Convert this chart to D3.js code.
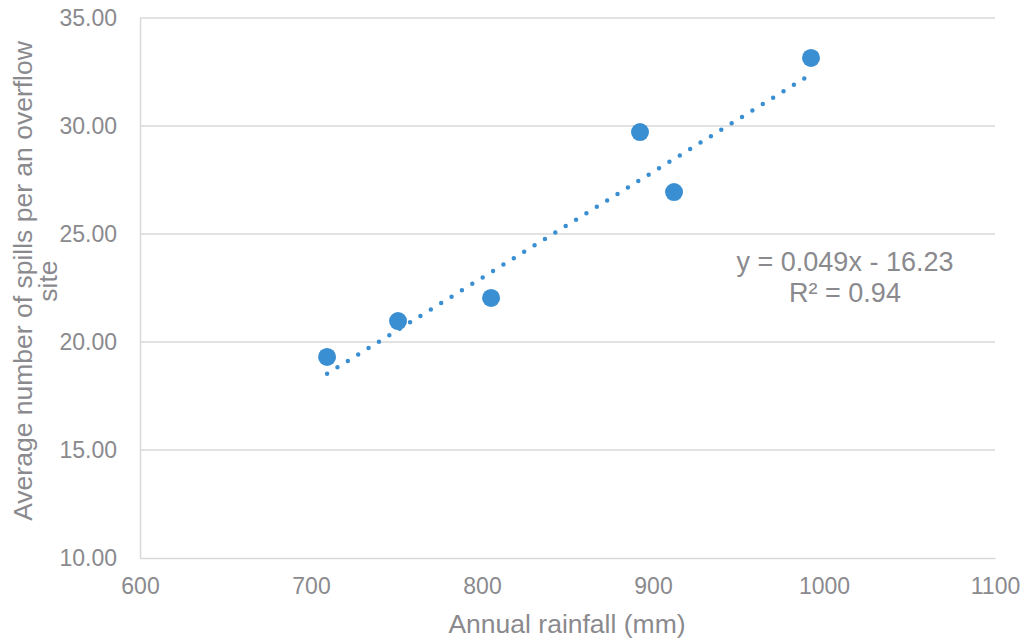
<!DOCTYPE html>
<html>
<head>
<meta charset="utf-8">
<script src="https://cdn.jsdelivr.net/npm/d3@7"></script>
<style>
  html, body { margin: 0; padding: 0; background: #fff; }
  svg { display: block; font-family: "Liberation Sans", Arial, sans-serif; }
</style>
</head>
<body>
<svg id="chart" width="1026" height="641"></svg>
<script>
// Annual rainfall (mm) against average spills per overflow site
const rainfall = [709.4, 750.9, 805.3, 892.4, 912.3, 992.4];
const spills   = [19.31, 20.97, 22.04, 29.72, 26.94, 33.15];

// Linear trendline as reported on the chart
const trendSlope = 0.049;
const trendIntercept = -16.23;
const trendLabel = ["y = 0.049x - 16.23", "R\u00B2 = 0.94"];

const xTicks = [600, 700, 800, 900, 1000, 1100];
const yTicks = [10, 15, 20, 25, 30, 35];
const xTitle = "Annual rainfall (mm)";
const yTitleLines = ["Average number of spills per an overflow", "site"];

const blue = "#3a8fd2";
const gray = "#8a8a8e";
const gridColor = "#d9d9d9";

const svg = d3.select("#chart");
const plotLeft = 140, plotRight = 995, plotTop = 18, plotBottom = 558;

const x = d3.scaleLinear().domain([600, 1100]).range([plotLeft, plotRight]);
const y = d3.scaleLinear().domain([10, 35]).range([plotBottom, plotTop]);

// horizontal gridlines
svg.append("g")
  .selectAll("line")
  .data(yTicks.slice(1))
  .join("line")
  .attr("x1", plotLeft).attr("x2", plotRight)
  .attr("y1", d => y(d)).attr("y2", d => y(d))
  .attr("stroke", gridColor).attr("stroke-width", 1.5);

// axes
const xAxis = svg.append("g")
  .attr("transform", `translate(0,${plotBottom})`)
  .call(d3.axisBottom(x).tickValues(xTicks).tickSize(0).tickPadding(20).tickFormat(d3.format("d")));
xAxis.select(".domain").attr("stroke", gridColor).attr("stroke-width", 1.5);
xAxis.selectAll("text").attr("fill", gray).attr("font-size", 23)
  .attr("font-family", "Liberation Sans, Arial, sans-serif");

const yAxis = svg.append("g")
  .attr("transform", `translate(${plotLeft},0)`)
  .call(d3.axisLeft(y).tickValues(yTicks).tickSize(0).tickPadding(23).tickFormat(d3.format(".2f")));
yAxis.select(".domain").attr("stroke", gridColor).attr("stroke-width", 1.5);
yAxis.selectAll("text").attr("fill", gray).attr("font-size", 23)
  .attr("font-family", "Liberation Sans, Arial, sans-serif");

// dotted trendline across the data range
const xr = d3.extent(rainfall);
svg.append("path")
  .datum(xr)
  .attr("d", d3.line().x(d => x(d)).y(d => y(trendSlope * d + trendIntercept)))
  .attr("fill", "none")
  .attr("stroke", blue)
  .attr("stroke-width", 4.5)
  .attr("stroke-linecap", "round")
  .attr("stroke-dasharray", "0,12.2");

// data points
svg.append("g")
  .selectAll("circle")
  .data(rainfall.map((r, i) => [r, spills[i]]))
  .join("circle")
  .attr("cx", d => x(d[0]))
  .attr("cy", d => y(d[1]))
  .attr("r", 9)
  .attr("fill", blue);

// trendline equation
svg.append("text")
  .attr("x", 845).attr("y", 271)
  .attr("text-anchor", "middle")
  .attr("fill", gray).attr("font-size", 27)
  .selectAll("tspan")
  .data(trendLabel)
  .join("tspan")
  .attr("x", 845)
  .attr("dy", (d, i) => i === 0 ? 0 : 31)
  .text(d => d);

// axis titles
svg.append("text")
  .attr("x", 567).attr("y", 633)
  .attr("text-anchor", "middle")
  .attr("fill", gray).attr("font-size", 26.5)
  .text(xTitle);

svg.append("text")
  .attr("transform", "translate(32,281) rotate(-90)")
  .attr("text-anchor", "middle")
  .attr("fill", gray).attr("font-size", 26.5)
  .selectAll("tspan")
  .data(yTitleLines)
  .join("tspan")
  .attr("x", 0)
  .attr("dy", (d, i) => i === 0 ? 0 : 25)
  .text(d => d);
</script>
</body>
</html>
